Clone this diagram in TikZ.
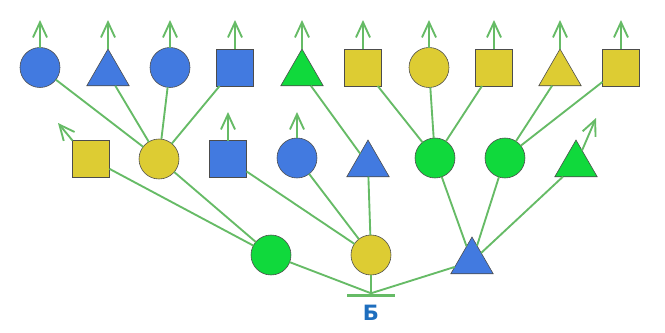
\documentclass[tikz,border=0pt]{standalone}
\usepackage{fontspec}
\newfontfamily\labelfont{DejaVu Sans}
\usetikzlibrary{arrows.meta, shapes.geometric}

\definecolor{cblue}{RGB}{66,122,224}
\definecolor{cyellow}{RGB}{221,204,51}
\definecolor{cgreen}{RGB}{16,217,60}
\definecolor{lgreen}{RGB}{102,187,102}
\definecolor{lblue}{RGB}{30,110,190}

\begin{document}
\begin{tikzpicture}[x=0.03cm, y=-0.03cm,
  shp/.style={draw=black!70, line width=0.5pt, inner sep=0pt, outer sep=0pt},
  circ/.style={shp, circle, minimum size=1.2cm},
  sqr/.style={shp, rectangle, minimum size=1.11cm},
  tri/.style={shp, regular polygon, regular polygon sides=3, minimum size=1.47cm},
  link/.style={lgreen, line width=1.6pt},
  up/.style={link, -{Straight Barb[length=13pt, width=12pt]}}]
  \useasboundingbox (0,0) rectangle (665,333);

  % Top row, every shape with its arrow
  \foreach \n/\x/\y/\s/\c in {a/40/67.5/circ/cblue, b/108/73.5/tri/cblue,
      c/170/67.5/circ/cblue, d/235/67.5/sqr/cblue, e/302/73.5/tri/cgreen,
      f/363/67.5/sqr/cyellow, g/429/67.5/circ/cyellow, h/494/67.5/sqr/cyellow,
      i/560/73.5/tri/cyellow, j/621/67.5/sqr/cyellow} {
    \node[\s, fill=\c] (t\n) at (\x,\y) {};
    \coordinate (t\n up) at (\x,20);
    \draw[up] (t\n.north) -- (t\n up);
  }

  % Middle row
  \foreach \n/\x/\y/\s/\c in {1/91/159/sqr/cyellow, 2/159/159/circ/cyellow,
      3/228/159/sqr/cblue, 4/297/158/circ/cblue, 5/368/164.5/tri/cblue,
      6/435/158/circ/cgreen, 7/505/158/circ/cgreen, 8/576/164.5/tri/cgreen}
    \node[\s, fill=\c] (m\n) at (\x,\y) {};

  % Bottom row
  \node[circ, fill=cgreen]  (b1) at (271,255) {};
  \node[circ, fill=cyellow] (b2) at (371,255) {};
  \node[tri, fill=cblue]    (b3) at (472,261.5) {};

  % Ground bar and label
  \node[fill=lgreen, inner sep=0pt, minimum width=1.44cm, minimum height=0.09cm] (bar) at (371,295) {};
  \node[text=lblue, font=\fontsize{18pt}{18pt}\selectfont\labelfont\bfseries] (lbl) at (371,313) {Б};

  % Middle row arrows
  \coordinate (m1 up) at (58,123);
  \coordinate (m3 up) at (228,112);
  \coordinate (m4 up) at (297,112);
  \coordinate (m8 up) at (596,118);
  \draw[up] (m1.north west) -- (m1 up);
  \draw[up] (m3.north) -- (m3 up);
  \draw[up] (m4.north) -- (m4 up);
  \draw[up] (m8) -- (m8 up);

  % Links
  \foreach \b in {b1, b2, b3}
    \draw[link] (\b) -- (bar.north);
  \foreach \a/\b in {b1/m1, b1/m2, b2/m3, b2/m4, b2/m5, b3/m6, b3/m7, b3/m8,
      m2/ta, m2/tb, m2/tc, m2/td, m5/te, m6/tf, m6/tg, m6/th, m7/ti, m7/tj}
    \draw[link] (\a) -- (\b);

\end{tikzpicture}
\end{document}
